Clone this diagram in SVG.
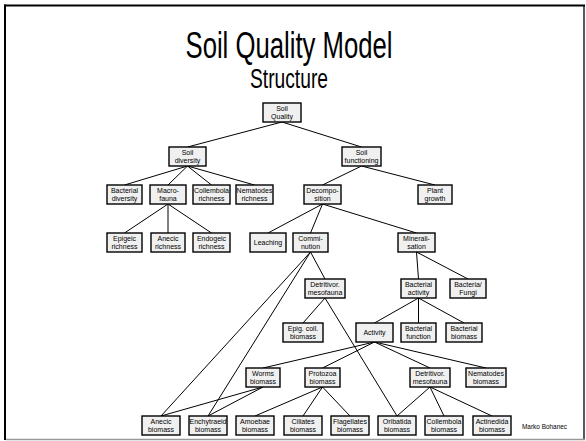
<svg xmlns="http://www.w3.org/2000/svg" width="586" height="441" viewBox="0 0 586 441">
  <style>
    .box { fill: #f0f0f0; stroke: #000; stroke-width: 1.4; }
    .lbl { font-family: "Liberation Sans", Arial, sans-serif; font-size: 7px; fill: #000; text-anchor: middle; }
    .edge { stroke: #000; stroke-width: 1; fill: none; }
    .title { font-family: "Liberation Sans", Arial, sans-serif; fill: #000; text-anchor: middle; }
  </style>
  <rect x="0" y="0" width="586" height="441" fill="#fff"/>
  <!-- slide frame -->
  <g id="frame">
    <line x1="5" y1="4.5" x2="5" y2="440" stroke="#000" stroke-width="2"/>
    <line x1="4" y1="5.5" x2="585" y2="5.5" stroke="#000" stroke-width="2"/>
    <line x1="584" y1="5" x2="584" y2="439" stroke="#000" stroke-width="1.3"/>
    <line x1="6" y1="439.5" x2="585" y2="439.5" stroke="#999" stroke-width="1.5"/>
  </g>
  <text class="title" x="289" y="58" font-size="37" textLength="207" lengthAdjust="spacingAndGlyphs">Soil Quality Model</text>
  <text class="title" x="289" y="88" font-size="27" textLength="78" lengthAdjust="spacingAndGlyphs">Structure</text>

  <g id="connectors" class="edge">
    <line x1="282" y1="122" x2="187.5" y2="147"/>
    <line x1="282" y1="122" x2="361.5" y2="147"/>
    <line x1="187.5" y1="166" x2="124.5" y2="185"/>
    <line x1="187.5" y1="166" x2="168" y2="185"/>
    <line x1="187.5" y1="166" x2="211.5" y2="185"/>
    <line x1="187.5" y1="166" x2="254.5" y2="185"/>
    <line x1="361.5" y1="166" x2="322.5" y2="185"/>
    <line x1="361.5" y1="166" x2="435" y2="185"/>
    <line x1="168" y1="204" x2="124.5" y2="233"/>
    <line x1="168" y1="204" x2="168" y2="233"/>
    <line x1="168" y1="204" x2="211.5" y2="233"/>
    <line x1="322.5" y1="204" x2="268" y2="233"/>
    <line x1="322.5" y1="204" x2="310.5" y2="233"/>
    <line x1="322.5" y1="204" x2="416.5" y2="233"/>
    <line x1="310.5" y1="252" x2="325" y2="279"/>
    <line x1="310.5" y1="252" x2="161" y2="416"/>
    <line x1="310.5" y1="252" x2="208" y2="416"/>
    <line x1="325" y1="298" x2="303" y2="323"/>
    <line x1="325" y1="298" x2="397" y2="416"/>
    <line x1="416.5" y1="252" x2="418.5" y2="279"/>
    <line x1="416.5" y1="252" x2="468" y2="279"/>
    <line x1="418.5" y1="298" x2="374.5" y2="323"/>
    <line x1="418.5" y1="298" x2="418.5" y2="323"/>
    <line x1="418.5" y1="298" x2="464" y2="323"/>
    <line x1="374.5" y1="342" x2="263" y2="368"/>
    <line x1="374.5" y1="342" x2="322.5" y2="368"/>
    <line x1="374.5" y1="342" x2="430" y2="368"/>
    <line x1="374.5" y1="342" x2="486" y2="368"/>
    <line x1="263" y1="387" x2="161" y2="416"/>
    <line x1="263" y1="387" x2="208" y2="416"/>
    <line x1="322.5" y1="387" x2="255" y2="416"/>
    <line x1="322.5" y1="387" x2="303" y2="416"/>
    <line x1="322.5" y1="387" x2="350" y2="416"/>
    <line x1="430" y1="387" x2="397" y2="416"/>
    <line x1="430" y1="387" x2="444" y2="416"/>
    <line x1="430" y1="387" x2="492" y2="416"/>
  </g>

  <g id="soil-quality"><rect class="box" x="263" y="103" width="38" height="19"/><text class="lbl" x="282" y="111">Soil</text><text class="lbl" x="282" y="119">Quality</text></g>
  <g id="soil-diversity"><rect class="box" x="169" y="147" width="37" height="19"/><text class="lbl" x="187.5" y="155">Soil</text><text class="lbl" x="187.5" y="163">diversity</text></g>
  <g id="soil-functioning"><rect class="box" x="342" y="147" width="39" height="19"/><text class="lbl" x="361.5" y="155">Soil</text><text class="lbl" x="361.5" y="163">functioning</text></g>

  <g id="bacterial-diversity"><rect class="box" x="107" y="185" width="35" height="19"/><text class="lbl" x="124.5" y="193">Bacterial</text><text class="lbl" x="124.5" y="201">diversity</text></g>
  <g id="macro-fauna"><rect class="box" x="150" y="185" width="36" height="19"/><text class="lbl" x="168" y="193">Macro-</text><text class="lbl" x="168" y="201">fauna</text></g>
  <g id="collembola-richness"><rect class="box" x="193" y="185" width="37" height="19"/><text class="lbl" x="211.5" y="193">Collembola</text><text class="lbl" x="211.5" y="201">richness</text></g>
  <g id="nematodes-richness"><rect class="box" x="236" y="185" width="37" height="19"/><text class="lbl" x="254.5" y="193">Nematodes</text><text class="lbl" x="254.5" y="201">richness</text></g>
  <g id="decomposition"><rect class="box" x="304" y="185" width="37" height="19"/><text class="lbl" x="322.5" y="193">Decompo-</text><text class="lbl" x="322.5" y="201">sition</text></g>
  <g id="plant-growth"><rect class="box" x="418" y="185" width="34" height="19"/><text class="lbl" x="435" y="193">Plant</text><text class="lbl" x="435" y="201">growth</text></g>

  <g id="epigeic-richness"><rect class="box" x="107" y="233" width="35" height="19"/><text class="lbl" x="124.5" y="241">Epigeic</text><text class="lbl" x="124.5" y="249">richness</text></g>
  <g id="anecic-richness"><rect class="box" x="151" y="233" width="34" height="19"/><text class="lbl" x="168" y="241">Anecic</text><text class="lbl" x="168" y="249">richness</text></g>
  <g id="endogeic-richness"><rect class="box" x="193" y="233" width="37" height="19"/><text class="lbl" x="211.5" y="241">Endogeic</text><text class="lbl" x="211.5" y="249">richness</text></g>
  <g id="leaching"><rect class="box" x="250" y="233" width="36" height="19"/><text class="lbl" x="268" y="245">Leaching</text></g>
  <g id="comminution"><rect class="box" x="293" y="233" width="35" height="19"/><text class="lbl" x="310.5" y="241">Commi-</text><text class="lbl" x="310.5" y="249">nution</text></g>
  <g id="mineralisation"><rect class="box" x="398" y="233" width="37" height="19"/><text class="lbl" x="416.5" y="241">Minerali-</text><text class="lbl" x="416.5" y="249">sation</text></g>

  <g id="detritivor-mesofauna-1"><rect class="box" x="305" y="279" width="40" height="19"/><text class="lbl" x="325" y="287">Detritivor.</text><text class="lbl" x="325" y="295">mesofauna</text></g>
  <g id="bacterial-activity"><rect class="box" x="401" y="279" width="35" height="19"/><text class="lbl" x="418.5" y="287">Bacterial</text><text class="lbl" x="418.5" y="295">activity</text></g>
  <g id="bacteria-fungi"><rect class="box" x="450" y="279" width="36" height="19"/><text class="lbl" x="468" y="287">Bacteria/</text><text class="lbl" x="468" y="295">Fungi</text></g>

  <g id="epig-coll-biomass"><rect class="box" x="283" y="323" width="40" height="19"/><text class="lbl" x="303" y="331">Epig. coll.</text><text class="lbl" x="303" y="339">biomass</text></g>
  <g id="activity"><rect class="box" x="356" y="323" width="37" height="19"/><text class="lbl" x="374.5" y="335">Activity</text></g>
  <g id="bacterial-function"><rect class="box" x="401" y="323" width="35" height="19"/><text class="lbl" x="418.5" y="331">Bacterial</text><text class="lbl" x="418.5" y="339">function</text></g>
  <g id="bacterial-biomass"><rect class="box" x="446" y="323" width="36" height="19"/><text class="lbl" x="464" y="331">Bacterial</text><text class="lbl" x="464" y="339">biomass</text></g>

  <g id="worms-biomass"><rect class="box" x="246" y="368" width="34" height="19"/><text class="lbl" x="263" y="376">Worms</text><text class="lbl" x="263" y="384">biomass</text></g>
  <g id="protozoa-biomass"><rect class="box" x="305" y="368" width="35" height="19"/><text class="lbl" x="322.5" y="376">Protozoa</text><text class="lbl" x="322.5" y="384">biomass</text></g>
  <g id="detritivor-mesofauna-2"><rect class="box" x="410" y="368" width="40" height="19"/><text class="lbl" x="430" y="376">Detritivor.</text><text class="lbl" x="430" y="384">mesofauna</text></g>
  <g id="nematodes-biomass"><rect class="box" x="466" y="368" width="40" height="19"/><text class="lbl" x="486" y="376">Nematodes</text><text class="lbl" x="486" y="384">biomass</text></g>

  <g id="anecic-biomass"><rect class="box" x="142" y="416" width="38" height="19"/><text class="lbl" x="161" y="424">Anecic</text><text class="lbl" x="161" y="432">biomass</text></g>
  <g id="enchytraeid-biomass"><rect class="box" x="189" y="416" width="38" height="19"/><text class="lbl" x="208" y="424">Enchytraeid</text><text class="lbl" x="208" y="432">biomass</text></g>
  <g id="amoebae-biomass"><rect class="box" x="236" y="416" width="38" height="19"/><text class="lbl" x="255" y="424">Amoebae</text><text class="lbl" x="255" y="432">biomass</text></g>
  <g id="ciliates-biomass"><rect class="box" x="284" y="416" width="38" height="19"/><text class="lbl" x="303" y="424">Ciliates</text><text class="lbl" x="303" y="432">biomass</text></g>
  <g id="flagellates-biomass"><rect class="box" x="331" y="416" width="38" height="19"/><text class="lbl" x="350" y="424">Flagellates</text><text class="lbl" x="350" y="432">biomass</text></g>
  <g id="oribatida-biomass"><rect class="box" x="378" y="416" width="38" height="19"/><text class="lbl" x="397" y="424">Oribatida</text><text class="lbl" x="397" y="432">biomass</text></g>
  <g id="collembola-biomass"><rect class="box" x="425" y="416" width="38" height="19"/><text class="lbl" x="444" y="424">Collembola</text><text class="lbl" x="444" y="432">biomass</text></g>
  <g id="actinedida-biomass"><rect class="box" x="473" y="416" width="38" height="19"/><text class="lbl" x="492" y="424">Actinedida</text><text class="lbl" x="492" y="432">biomass</text></g>

  <text x="522" y="429" font-family="'Liberation Sans', Arial, sans-serif" font-size="6.5" textLength="45" lengthAdjust="spacingAndGlyphs">Marko Bohanec</text>
</svg>
